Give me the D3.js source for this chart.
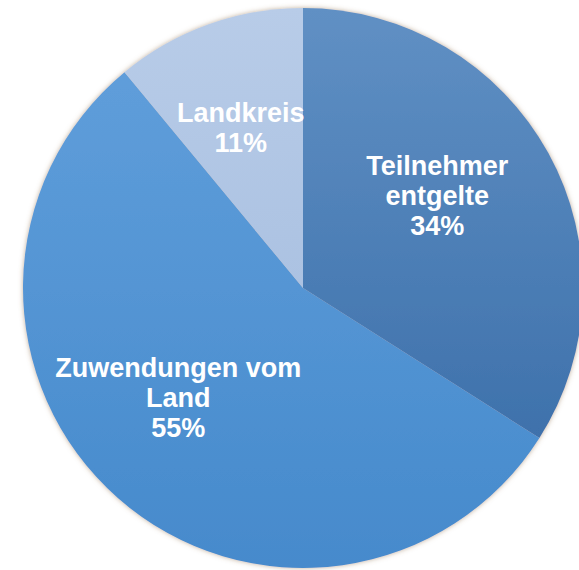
<!DOCTYPE html>
<html>
<head>
<meta charset="utf-8">
<script src="https://cdn.jsdelivr.net/npm/d3@7"></script>
<style>
  html, body { margin: 0; padding: 0; background: #fff; }
  svg { display: block; }
</style>
</head>
<body>
<div id="piechart"></div>
<script>
'use strict';

// slice names (one line per array entry) and shares in percent
var labels = [["Teilnehmer", "entgelte"], ["Zuwendungen vom", "Land"], ["Landkreis"]];
var values = [34, 55, 11];
var topColors    = ["#6090c4", "#62a0dc", "#b8cce8"];
var bottomColors = ["#3468a4", "#468acc", "#9fb8dc"];

var width = 579, height = 570;
var cx = 303, cy = 288, radius = 280;

var svg = d3.select("#piechart")
    .append("svg")
    .attr("width", width)
    .attr("height", height);

var defs = svg.append("defs");

// soft edge shadow round the pie
var shadow = defs.append("filter").attr("id", "shadow")
    .attr("x", "-10%").attr("y", "-10%").attr("width", "120%").attr("height", "120%");
shadow.append("feDropShadow")
    .attr("dx", 0).attr("dy", 0)
    .attr("stdDeviation", 2.5)
    .attr("flood-color", "#8a6a45")
    .attr("flood-opacity", 0.55);

// vertical gradient for each slice
values.forEach(function(v, i) {
    var g = defs.append("linearGradient")
        .attr("id", "grad" + i)
        .attr("gradientUnits", "userSpaceOnUse")
        .attr("x1", 0).attr("y1", -radius)
        .attr("x2", 0).attr("y2", radius);
    g.append("stop").attr("offset", "0%").attr("stop-color", topColors[i]);
    g.append("stop").attr("offset", "100%").attr("stop-color", bottomColors[i]);
});

var pie = d3.pie().sort(null).value(function(d) { return d; });
var arc = d3.arc().innerRadius(0).outerRadius(radius);
var labelArc = d3.arc().innerRadius(160).outerRadius(160);

var g = svg.append("g")
    .attr("transform", "translate(" + cx + "," + cy + ")");

var arcs = pie(values);

g.append("g")
    .attr("filter", "url(#shadow)")
    .selectAll("path")
    .data(arcs)
    .enter().append("path")
    .attr("d", arc)
    .attr("fill", function(d, i) { return "url(#grad" + i + ")"; });

// labels: name lines + percentage, near the slice centroid (small nudges)
var lineH = 30;
var nudgeX = [-6, -19, -8], nudgeY = [-15, -10, -9];
arcs.forEach(function(d, i) {
    var c = labelArc.centroid(d);
    var lines = labels[i].concat([values[i] + "%"]);
    var x = c[0] + nudgeX[i];
    var t = g.append("text")
        .attr("text-anchor", "middle")
        .attr("font-family", "'Liberation Sans', Arial, sans-serif")
        .attr("font-weight", "bold")
        .attr("font-size", "27px")
        .attr("fill", "#fff");
    var y0 = c[1] + nudgeY[i] - (lines.length - 1) * lineH / 2 + 9;
    lines.forEach(function(s, k) {
        t.append("tspan")
            .attr("x", x)
            .attr("y", y0 + k * lineH)
            .text(s);
    });
});
</script>
</body>
</html>
